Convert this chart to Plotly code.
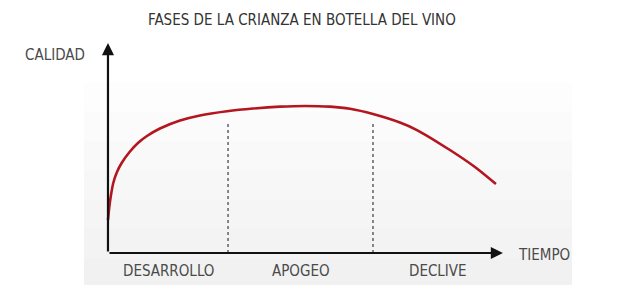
import plotly.graph_objects as go

# ---- data ----
tiempo = [0, 0.033, 0.076, 0.134, 0.228, 0.354, 0.557, 0.759, 0.987, 1.316, 1.823, 2.329,
          3.013, 3.671, 4.354, 4.987, 5.620, 6.127, 6.709, 7.392, 7.823, 8.658, 9.291, 9.823]
calidad = [1.571, 2.190, 2.762, 3.333, 3.857, 4.310, 4.833, 5.238, 5.571, 5.929, 6.310, 6.552,
           6.752, 6.881, 6.971, 7.005, 6.971, 6.867, 6.619, 6.214, 5.857, 4.905, 4.095, 3.286]
fase_limites = [0, 3.04, 6.71, 10]          # time boundaries of the phases
fase_nombres = ["DESARROLLO", "APOGEO", "DECLIVE"]
divisor_altura = 6.24                        # height of the dotted dividers
eje_max_x = 10
eje_max_y = 10
titulo = "FASES DE LA CRIANZA EN BOTELLA DEL VINO"
etiqueta_y = "CALIDAD"
etiqueta_x = "TIEMPO"

FONT = "Liberation Sans Narrow, DejaVu Sans Condensed, Arial Narrow, sans-serif"
TXT = "#4a4a4a"

fig = go.Figure()

# dotted dividers between phases
for xb in fase_limites[1:-1]:
    fig.add_trace(go.Scatter(x=[xb, xb], y=[0, divisor_altura], mode="lines",
                             line=dict(color="#6a6a6a", width=1.6, dash="dot"),
                             hoverinfo="skip"))

# quality curve
fig.add_trace(go.Scatter(x=tiempo, y=calidad, mode="lines",
                         line=dict(color="#b3161e", width=2.6, shape="spline", smoothing=0.7),
                         hoverinfo="skip"))

annotations = []
# axis arrows
annotations.append(dict(x=eje_max_x, y=0, ax=0, ay=0, xref="x", yref="y", axref="x", ayref="y",
                        showarrow=True, arrowhead=2, arrowsize=1.1, arrowwidth=2.2,
                        arrowcolor="#111111", text=""))
annotations.append(dict(x=0, y=eje_max_y, ax=0, ay=0, xref="x", yref="y", axref="x", ayref="y",
                        showarrow=True, arrowhead=2, arrowsize=1.1, arrowwidth=2.2,
                        arrowcolor="#111111", text=""))
# title
annotations.append(dict(x=302 / 623, y=(293 - 20) / 293, xref="paper", yref="paper",
                        text=titulo, showarrow=False, xanchor="center", yanchor="middle",
                        font=dict(family=FONT, size=15, color="#333333")))
# axis labels
annotations.append(dict(x=-1.34, y=9.43, xref="x", yref="y", text=etiqueta_y, showarrow=False,
                        xanchor="center", yanchor="middle",
                        font=dict(family=FONT, size=15, color=TXT)))
annotations.append(dict(x=10.33, y=-0.08, xref="x", yref="y", text=etiqueta_x, showarrow=False,
                        xanchor="left", yanchor="middle",
                        font=dict(family=FONT, size=15, color=TXT)))
# phase labels
for i, name in enumerate(fase_nombres):
    xc = (fase_limites[i] + fase_limites[i + 1]) / 2
    annotations.append(dict(x=xc, y=-0.86, xref="x", yref="y", text=name, showarrow=False,
                            xanchor="center", yanchor="middle",
                            font=dict(family=FONT, size=15, color=TXT)))

# faint background (decorative gradient)
shapes = []
x0, x1 = 84 / 623, 572 / 623
for y1 in [0.12, 0.22, 0.32, 0.42, 0.52, 0.62, 0.72]:
    shapes.append(dict(type="rect", xref="paper", yref="paper", x0=x0, x1=x1,
                       y0=8 / 293, y1=y1, fillcolor="rgba(0,0,0,0.006)",
                       line=dict(width=0), layer="below"))

fig.update_layout(
    width=623, height=293,
    margin=dict(l=0, r=0, t=0, b=0),
    paper_bgcolor="white", plot_bgcolor="rgba(0,0,0,0)",
    showlegend=False,
    xaxis=dict(range=[-2.734, 13.04], visible=False, fixedrange=True),
    yaxis=dict(range=[-1.905, 12.05], visible=False, fixedrange=True),
    annotations=annotations,
    shapes=shapes,
)

fig.write_html("out.html")
